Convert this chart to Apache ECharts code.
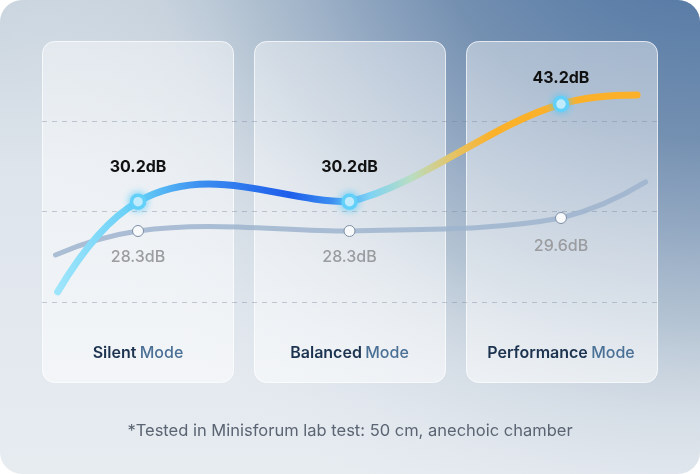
<!DOCTYPE html>
<html>
<head>
<meta charset="utf-8">
<script src="https://cdn.jsdelivr.net/npm/echarts@6/dist/echarts.min.js"></script>
<style>
  html, body { margin: 0; padding: 0; background: #ffffff; }
  #chart { width: 700px; height: 474px; }
</style>
</head>
<body>
<div id="chart"></div>
<script>
// ---- data ----
const categories = ['Silent', 'Balanced', 'Performance'];
const categorySuffix = 'Mode';
const mainValues = [30.2, 30.2, 43.2];   // highlighted curve (dB)
const baseValues = [28.3, 28.3, 29.6];   // grey reference curve (dB)
// curve lead-in / lead-out ends [x position in category units, dB]
const mainLead = [-0.38, 18.2];
const mainTail = [2.36, 44.4];
const baseLead = [-0.39, 25.9];
const baseTail = [2.40, 33.2];
const unit = 'dB';
const footnote = '*Tested in Minisforum lab test: 50 cm, anechoic chamber';

// ---- styles ----
const FONT = 'Inter, "Noto Sans", sans-serif';
const mainLabelGap = [18, 18, 10];
const baseLabelGap = [12, 12, 14];

function allPoints(lead, vals, tail) {
  return [lead].concat(vals.map((v, i) => [i, v])).concat([tail]);
}

function buildMarkers(lead, vals, tail, itemFn) {
  const out = [{ value: lead, symbol: 'none', label: { show: false } }];
  vals.forEach((v, i) => out.push(Object.assign({ value: [i, v] }, itemFn(i))));
  out.push({ value: tail, symbol: 'none', label: { show: false } });
  return out;
}

// cubic Hermite curve (pixel space) with averaged-slope tangents;
// incoming handles are kept within their segment's vertical range
function smoothPath(pts) {
  const n = pts.length;
  const h = [], d = [];
  for (let i = 0; i < n - 1; i++) {
    h.push(pts[i + 1][0] - pts[i][0]);
    d.push((pts[i + 1][1] - pts[i][1]) / h[i]);
  }
  const m = new Array(n);
  for (let i = 1; i < n - 1; i++) m[i] = (d[i - 1] + d[i]) / 2;
  m[0] = n > 2 ? 2 * d[0] - m[1] : d[0];
  m[n - 1] = n > 2 ? 2 * d[n - 2] - m[n - 2] : d[n - 2];
  let path = 'M' + pts[0][0] + ' ' + pts[0][1];
  for (let i = 0; i < n - 1; i++) {
    const a = pts[i], b = pts[i + 1], k = h[i] / 3;
    const c1x = a[0] + k, c1y = a[1] + m[i] * k;
    const c2x = b[0] - k;
    let c2y = b[1] - m[i + 1] * k;
    c2y = Math.min(Math.max(c2y, Math.min(a[1], b[1])), Math.max(a[1], b[1]));
    path += ' C' + c1x + ' ' + c1y + ' ' + c2x + ' ' + c2y + ' ' + b[0] + ' ' + b[1];
  }
  return path;
}

function curveSeries(points, yAxisIndex, z, styleFn) {
  return {
    type: 'custom',
    coordinateSystem: 'cartesian2d',
    yAxisIndex: yAxisIndex,
    clip: false,
    silent: true,
    z: z,
    data: points,
    encode: { x: 0, y: 1 },
    renderItem: function (params, api) {
      if (params.dataIndex !== 0) return null;
      const px = points.map(p => api.coord(p));
      return {
        type: 'path',
        shape: { pathData: smoothPath(px) },
        style: styleFn(px)
      };
    }
  };
}

const mainStops = [
  { offset: 0, color: '#9ee5fb' },
  { offset: 0.14, color: '#63cdf6' },
  { offset: 0.25, color: '#3b8df0' },
  { offset: 0.40, color: '#1d5deb' },
  { offset: 0.47, color: '#3a8cf0' },
  { offset: 0.54, color: '#7fd3f4' },
  { offset: 0.61, color: '#b8ddc2' },
  { offset: 0.68, color: '#e4c468' },
  { offset: 0.75, color: '#fbb12a' },
  { offset: 1, color: '#fbb02a' }
];

const chart = echarts.init(document.getElementById('chart'), null, { renderer: 'canvas' });

const panelXs = [[42, 233], [254, 445], [466, 657]];
const panels = panelXs.map(([x0, x1]) => ({
  type: 'rect',
  z: -50,
  shape: { x: x0 + 0.5, y: 41.5, width: x1 - x0, height: 341, r: 12 },
  style: {
    fill: new echarts.graphic.LinearGradient(0, 0, 0, 1, [
      { offset: 0, color: 'rgba(255,255,255,0.42)' },
      { offset: 1, color: 'rgba(255,255,255,0.55)' }
    ]),
    stroke: 'rgba(255,255,255,0.75)',
    lineWidth: 1
  }
}));

const option = {
  animation: false,
  textStyle: { fontFamily: FONT },
  graphic: {
    elements: [
      {
        type: 'rect', z: -100,
        shape: { x: 0, y: 0, width: 700, height: 474, r: 22 },
        style: {
          fill: new echarts.graphic.LinearGradient(0, 0, 0, 1, [
            { offset: 0, color: '#cad5df' },
            { offset: 0.35, color: '#dde4eb' },
            { offset: 1, color: '#e7ecf1' }
          ])
        }
      },
      {
        type: 'rect', z: -90,
        shape: { x: 0, y: 0, width: 700, height: 474, r: 22 },
        style: {
          fill: new echarts.graphic.RadialGradient(700, -150, 800, [
            { offset: 0, color: 'rgba(82,117,159,1)' },
            { offset: 0.19, color: 'rgba(90,125,167,1)' },
            { offset: 0.36, color: 'rgba(116,144,177,1)' },
            { offset: 0.48, color: 'rgba(145,167,193,0.95)' },
            { offset: 0.59, color: 'rgba(168,186,204,0.8)' },
            { offset: 0.70, color: 'rgba(195,207,219,0.5)' },
            { offset: 0.80, color: 'rgba(205,215,225,0.2)' },
            { offset: 0.90, color: 'rgba(220,227,234,0)' }
          ], true)
        }
      }
    ].concat(panels)
  },
  title: {
    text: footnote,
    left: 'center',
    top: 418,
    textStyle: { fontFamily: FONT, fontSize: 16.5, fontWeight: 'normal', color: '#5b6472' }
  },
  grid: { left: 42, right: 43, top: 121, bottom: 172 },
  xAxis: {
    type: 'value',
    min: -0.454,
    max: 2.454,
    axisLine: { show: false },
    axisTick: { show: false },
    splitLine: { show: false },
    axisLabel: {
      customValues: [0, 1, 2],
      margin: 43,
      formatter: v => '{a|' + categories[Math.round(v)] + '} {b|' + categorySuffix + '}',
      rich: {
        a: { fontFamily: FONT, fontSize: 16, fontWeight: 600, color: '#1c3350' },
        b: { fontFamily: FONT, fontSize: 16, fontWeight: 500, color: '#4b7096' }
      }
    }
  },
  yAxis: [
    { type: 'value', show: false, min: 16.85, max: 40.94, splitLine: { show: false } },
    { type: 'value', show: false, min: 21.2, max: 39.3, splitLine: { show: false } },
    {
      type: 'value', min: 0, max: 2, interval: 1,
      axisLine: { show: false }, axisTick: { show: false }, axisLabel: { show: false },
      splitLine: { show: true, lineStyle: { type: [5, 5], color: 'rgba(120,132,155,0.4)', width: 1 } }
    }
  ],
  series: [
    curveSeries(allPoints(baseLead, baseValues, baseTail), 1, 2, () => ({
      fill: 'none', stroke: 'rgba(158,180,206,0.85)', lineWidth: 5, lineCap: 'round'
    })),
    curveSeries(allPoints(mainLead, mainValues, mainTail), 0, 4, px => ({
      fill: 'none',
      stroke: new echarts.graphic.LinearGradient(px[0][0], 0, px[px.length - 1][0], 0, mainStops, true),
      lineWidth: 7, lineCap: 'round'
    })),
    {
      type: 'line',
      yAxisIndex: 1,
      clip: false,
      z: 3,
      data: buildMarkers(baseLead, baseValues, baseTail, i => ({
        label: { show: true, position: 'bottom', distance: baseLabelGap[i] }
      })),
      symbol: 'circle',
      symbolSize: 11,
      lineStyle: { opacity: 0 },
      itemStyle: { color: '#f7f9fb', borderColor: '#7e8fa5', borderWidth: 1 },
      label: {
        formatter: p => p.value[1].toFixed(1) + unit,
        fontFamily: FONT, fontSize: 16, fontWeight: 500, color: '#9a9c9f'
      }
    },
    {
      type: 'line',
      yAxisIndex: 0,
      clip: false,
      z: 5,
      data: buildMarkers(mainLead, mainValues, mainTail, i => ({
        label: { show: true, position: 'top', distance: mainLabelGap[i] }
      })),
      symbol: 'circle',
      symbolSize: 13,
      lineStyle: { opacity: 0 },
      itemStyle: {
        color: '#ffffff', borderColor: '#62d0f8', borderWidth: 3.5,
        shadowBlur: 8, shadowColor: 'rgba(80,200,250,0.9)'
      },
      label: {
        formatter: p => p.value[1].toFixed(1) + unit,
        fontFamily: FONT, fontSize: 16, fontWeight: 'bold', color: '#111111'
      }
    }
  ]
};

chart.setOption(option);
</script>
</body>
</html>
